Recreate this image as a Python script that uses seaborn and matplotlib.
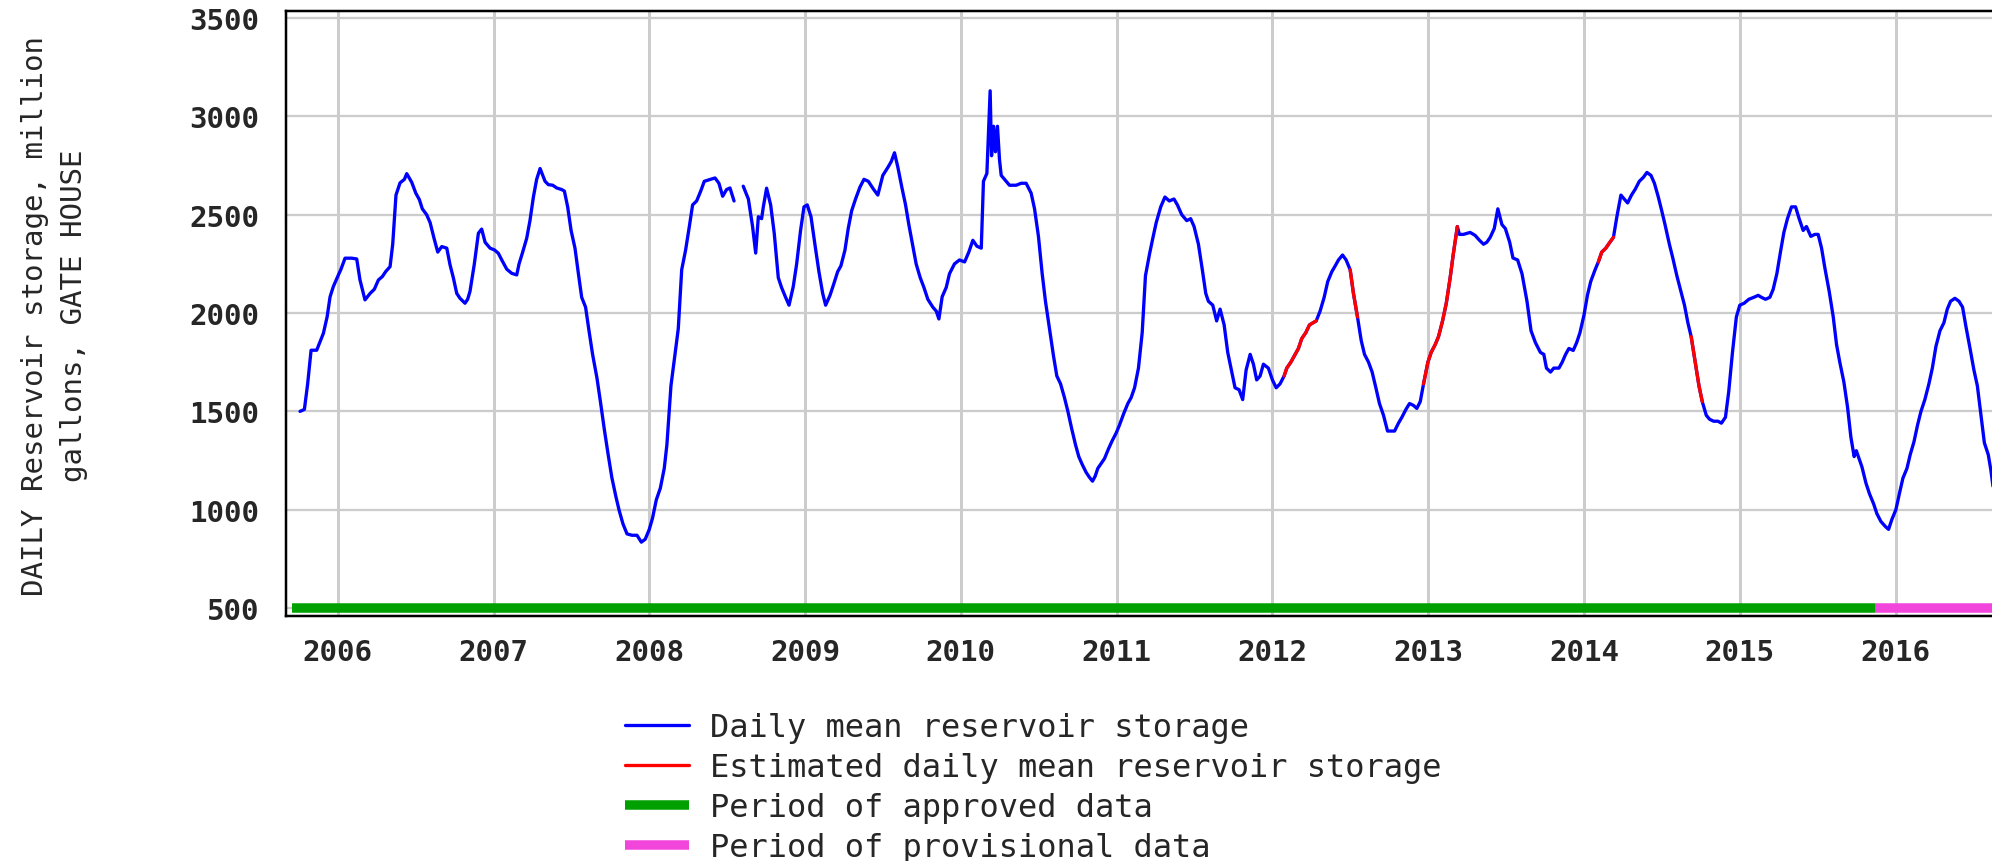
import numpy as np
import pandas as pd
import matplotlib
matplotlib.use("Agg")
import matplotlib.pyplot as plt
from matplotlib.lines import Line2D
import seaborn as sns

# daily mean reservoir storage (million gallons)
years = [
    2005.758, 2005.786, 2005.807, 2005.829, 2005.865, 2005.908, 2005.932, 2005.951, 2005.972,
    2006.000, 2006.021, 2006.047, 2006.090, 2006.122, 2006.143, 2006.175, 2006.208, 2006.235,
    2006.261, 2006.287, 2006.308, 2006.336, 2006.353, 2006.374, 2006.400, 2006.428, 2006.443,
    2006.475, 2006.501, 2006.524, 2006.543, 2006.571, 2006.593, 2006.618, 2006.642, 2006.668,
    2006.700, 2006.721, 2006.742, 2006.764, 2006.785, 2006.817, 2006.834, 2006.849, 2006.877,
    2006.903, 2006.924, 2006.946, 2006.978, 2007.006, 2007.031, 2007.053, 2007.085, 2007.117,
    2007.149, 2007.164, 2007.185, 2007.213, 2007.234, 2007.256, 2007.277, 2007.299, 2007.331,
    2007.352, 2007.380, 2007.406, 2007.438, 2007.455, 2007.476, 2007.498, 2007.523, 2007.545,
    2007.566, 2007.591, 2007.613, 2007.636, 2007.664, 2007.688, 2007.711, 2007.735, 2007.760,
    2007.786, 2007.807, 2007.831, 2007.857, 2007.889, 2007.921, 2007.949, 2007.974, 2008.000,
    2008.021, 2008.045, 2008.071, 2008.096, 2008.113, 2008.139, 2008.165, 2008.186, 2008.208,
    2008.233, 2008.257, 2008.278, 2008.304, 2008.330, 2008.353, 2008.389, 2008.422, 2008.447,
    2008.471, 2008.496, 2008.518, 2008.544, 2008.570, 2008.603, 2008.636, 2008.663, 2008.683,
    2008.700, 2008.721, 2008.732, 2008.753, 2008.779, 2008.802, 2008.828, 2008.849, 2008.875,
    2008.897, 2008.924, 2008.946, 2008.971, 2008.993, 2009.014, 2009.038, 2009.063, 2009.089,
    2009.113, 2009.132, 2009.160, 2009.185, 2009.209, 2009.230, 2009.256, 2009.277, 2009.299,
    2009.324, 2009.352, 2009.378, 2009.406, 2009.439, 2009.467, 2009.499, 2009.531, 2009.553,
    2009.574, 2009.596, 2009.621, 2009.645, 2009.666, 2009.692, 2009.713, 2009.739, 2009.763,
    2009.788, 2009.820, 2009.842, 2009.859, 2009.880, 2009.906, 2009.927, 2009.959, 2009.991,
    2010.024, 2010.051, 2010.077, 2010.103, 2010.131, 2010.145, 2010.167, 2010.188, 2010.197,
    2010.210, 2010.222, 2010.235, 2010.248, 2010.259, 2010.280, 2010.312, 2010.355, 2010.387,
    2010.419, 2010.451, 2010.473, 2010.498, 2010.522, 2010.543, 2010.569, 2010.595, 2010.616,
    2010.640, 2010.665, 2010.687, 2010.712, 2010.736, 2010.757, 2010.779, 2010.804, 2010.825,
    2010.845, 2010.862, 2010.879, 2010.922, 2010.948, 2010.971, 2010.997, 2011.018, 2011.046,
    2011.072, 2011.093, 2011.115, 2011.140, 2011.164, 2011.185, 2011.211, 2011.232, 2011.254,
    2011.283, 2011.310, 2011.338, 2011.368, 2011.390, 2011.418, 2011.450, 2011.475, 2011.497,
    2011.525, 2011.550, 2011.572, 2011.589, 2011.617, 2011.642, 2011.664, 2011.690, 2011.713,
    2011.739, 2011.760, 2011.786, 2011.809, 2011.831, 2011.857, 2011.878, 2011.899, 2011.921,
    2011.942, 2011.974, 2012.000, 2012.024, 2012.049, 2012.075, 2012.092, 2012.118, 2012.139,
    2012.167, 2012.188, 2012.214, 2012.238, 2012.281, 2012.306, 2012.332, 2012.355, 2012.381,
    2012.403, 2012.424, 2012.450, 2012.473, 2012.499, 2012.520, 2012.546, 2012.570, 2012.591,
    2012.617, 2012.640, 2012.664, 2012.687, 2012.713, 2012.739, 2012.767, 2012.784, 2012.809,
    2012.831, 2012.857, 2012.880, 2012.906, 2012.927, 2012.949, 2012.970, 2012.998, 2013.019,
    2013.045, 2013.066, 2013.092, 2013.116, 2013.141, 2013.161, 2013.187, 2013.200, 2013.226,
    2013.269, 2013.301, 2013.329, 2013.355, 2013.376, 2013.398, 2013.424, 2013.447, 2013.473,
    2013.495, 2013.523, 2013.544, 2013.574, 2013.602, 2013.634, 2013.660, 2013.688, 2013.720,
    2013.742, 2013.759, 2013.785, 2013.806, 2013.839, 2013.860, 2013.882, 2013.903, 2013.931,
    2013.953, 2013.974, 2014.000, 2014.022, 2014.043, 2014.071, 2014.092, 2014.114, 2014.140,
    2014.166, 2014.189, 2014.211, 2014.237, 2014.258, 2014.280, 2014.305, 2014.329, 2014.355,
    2014.381, 2014.404, 2014.430, 2014.452, 2014.477, 2014.499, 2014.520, 2014.548, 2014.570,
    2014.596, 2014.619, 2014.645, 2014.667, 2014.688, 2014.714, 2014.738, 2014.759, 2014.785,
    2014.806, 2014.832, 2014.860, 2014.882, 2014.908, 2014.929, 2014.953, 2014.978, 2015.000,
    2015.028, 2015.058, 2015.090, 2015.118, 2015.139, 2015.165, 2015.193, 2015.214, 2015.238,
    2015.261, 2015.283, 2015.306, 2015.332, 2015.358, 2015.381, 2015.407, 2015.428, 2015.456,
    2015.482, 2015.503, 2015.525, 2015.546, 2015.574, 2015.600, 2015.621, 2015.642, 2015.668,
    2015.692, 2015.713, 2015.734, 2015.748, 2015.770, 2015.784, 2015.810, 2015.833, 2015.859,
    2015.880, 2015.906, 2015.934, 2015.955, 2015.976, 2016.002, 2016.024, 2016.047, 2016.073,
    2016.094, 2016.118, 2016.141, 2016.163, 2016.188, 2016.214, 2016.236, 2016.259, 2016.285,
    2016.310, 2016.332, 2016.353, 2016.381, 2016.407, 2016.430, 2016.452, 2016.478, 2016.503,
    2016.525, 2016.548, 2016.570, 2016.595, 2016.612, 2016.625,
]
storage = [
    1500, 1510, 1640, 1811, 1811, 1897, 1981, 2083, 2135,
    2186, 2223, 2279, 2279, 2275, 2168, 2067, 2100, 2121,
    2168, 2186, 2211, 2236, 2350, 2600, 2662, 2680, 2709,
    2665, 2610, 2577, 2530, 2500, 2460, 2381, 2310, 2338,
    2330, 2245, 2180, 2100, 2075, 2050, 2070, 2110, 2250,
    2406, 2427, 2360, 2330, 2321, 2304, 2270, 2223, 2202,
    2194, 2250, 2304, 2380, 2470, 2590, 2680, 2735, 2670,
    2653, 2650, 2636, 2628, 2620, 2540, 2420, 2330, 2200,
    2080, 2030, 1910, 1790, 1670, 1540, 1410, 1285, 1162,
    1065, 995, 928, 877, 870, 870, 835, 850, 900,
    958, 1050, 1110, 1210, 1330, 1630, 1790, 1920, 2220,
    2320, 2440, 2550, 2570, 2620, 2670, 2679, 2687, 2660,
    2594, 2628, 2636, 2570, np.nan, 2645, 2580, 2440, 2305,
    2490, 2480, 2540, 2635, 2550, 2406, 2180, 2130, 2080,
    2040, 2134, 2250, 2420, 2540, 2550, 2490, 2350, 2210,
    2100, 2040, 2090, 2150, 2210, 2240, 2320, 2430, 2520,
    2580, 2640, 2680, 2670, 2630, 2600, 2700, 2740, 2770,
    2815, 2740, 2640, 2550, 2450, 2340, 2250, 2180, 2130,
    2070, 2030, 2010, 1970, 2083, 2130, 2200, 2250, 2270,
    2260, 2310, 2370, 2340, 2330, 2670, 2710, 3130, 2800,
    2950, 2820, 2950, 2780, 2700, 2680, 2650, 2650, 2660,
    2660, 2610, 2530, 2390, 2200, 2060, 1920, 1780, 1680,
    1640, 1570, 1500, 1410, 1330, 1270, 1230, 1190, 1165,
    1145, 1170, 1210, 1260, 1310, 1350, 1390, 1430, 1490,
    1540, 1570, 1620, 1720, 1900, 2190, 2300, 2380, 2460,
    2540, 2590, 2570, 2580, 2550, 2500, 2470, 2480, 2440,
    2350, 2220, 2100, 2060, 2040, 1960, 2020, 1940, 1800,
    1700, 1620, 1610, 1560, 1710, 1790, 1740, 1660, 1680,
    1740, 1720, 1660, 1620, 1640, 1680, 1720, 1750, 1780,
    1820, 1870, 1900, 1940, 1960, 2010, 2080, 2160, 2210,
    2240, 2270, 2295, 2270, 2220, 2100, 1980, 1860, 1790,
    1750, 1700, 1620, 1540, 1480, 1400, 1400, 1400, 1440,
    1470, 1510, 1540, 1530, 1515, 1550, 1640, 1750, 1800,
    1840, 1880, 1960, 2050, 2180, 2300, 2440, 2400, 2400,
    2410, 2395, 2370, 2350, 2360, 2385, 2430, 2530, 2450,
    2430, 2360, 2280, 2270, 2200, 2060, 1910, 1850, 1800,
    1790, 1720, 1700, 1720, 1720, 1750, 1790, 1820, 1810,
    1850, 1900, 1990, 2090, 2160, 2220, 2260, 2310, 2330,
    2360, 2385, 2490, 2600, 2580, 2560, 2600, 2630, 2670,
    2690, 2715, 2700, 2660, 2590, 2520, 2450, 2350, 2280,
    2190, 2120, 2040, 1950, 1880, 1750, 1630, 1550, 1480,
    1460, 1450, 1450, 1440, 1470, 1600, 1800, 1980, 2040,
    2050, 2070, 2080, 2090, 2080, 2070, 2080, 2120, 2200,
    2310, 2410, 2480, 2540, 2540, 2480, 2420, 2440, 2390,
    2400, 2400, 2330, 2230, 2110, 1980, 1840, 1750, 1650,
    1520, 1370, 1270, 1300, 1250, 1218, 1135, 1080, 1030,
    980, 940, 915, 900, 950, 1000, 1080, 1160, 1210,
    1280, 1345, 1430, 1500, 1560, 1640, 1720, 1830, 1910,
    1950, 2020, 2060, 2075, 2060, 2030, 1930, 1820, 1710,
    1630, 1480, 1340, 1280, 1200, 1120,
]

# periods of estimated daily values
est_start = [2012.075, 2012.499, 2012.970, 2014.092, 2014.688]
est_end = [2012.281, 2012.546, 2013.187, 2014.189, 2014.759]

# approval status periods
period_start = [2005.706, 2015.869]
period_end = [2015.869, 2016.800]
period_colors = ["#00a000", "#f245dc"]

x_ticks = [2006, 2007, 2008, 2009, 2010, 2011, 2012, 2013, 2014, 2015, 2016]
x_labels = [str(y) for y in x_ticks]
y_ticks = [500, 1000, 1500, 2000, 2500, 3000, 3500]

legend_labels = [
    "Daily mean reservoir storage",
    "Estimated daily mean reservoir storage",
    "Period of approved data",
    "Period of provisional data",
]

sns.set_style("white")
plt.rcParams["font.family"] = ["DejaVu Sans Mono", "DejaVu Sans"]

px = 0.72  # points per pixel at dpi 100

df = pd.DataFrame({"year": years, "storage": storage})
df["seg"] = df["storage"].isna().cumsum()
df = df.dropna()

est = pd.concat([
    df[(df["year"] >= s) & (df["year"] <= e)].assign(seg=i)
    for i, (s, e) in enumerate(zip(est_start, est_end))
])

fig = plt.figure(figsize=(19.92, 8.62), dpi=100)
ax = fig.add_axes([286 / 1992, 1 - 616.5 / 862, 1 - 286 / 1992, (616.5 - 12) / 862])

sns.lineplot(data=df, x="year", y="storage", units="seg", estimator=None, sort=False,
             color="#0000ff", lw=3.3 * px, ax=ax, legend=False)
sns.lineplot(data=est, x="year", y="storage", units="seg", estimator=None, sort=False,
             color="#ff0000", lw=3.3 * px, ax=ax, legend=False)

for s, e, c in zip(period_start, period_end, period_colors):
    ax.hlines(500, s, e, color=c, lw=9.5 * px, capstyle="butt", zorder=4)

ax.set_xlim(2005.668, 2016.619)
ax.set_ylim(462, 3536)
ax.set_xticks(x_ticks)
ax.set_xticklabels(x_labels)
ax.set_yticks(y_ticks)

ax.xaxis.grid(True, color="#cccccc", lw=3 * px)
ax.yaxis.grid(True, color="#cccccc", lw=2.3 * px)
ax.set_axisbelow(True)

for side in ["left", "top", "bottom"]:
    ax.spines[side].set_color("black")
    ax.spines[side].set_linewidth(2.5 * px)
ax.spines["right"].set_visible(False)

ax.tick_params(axis="both", length=0, labelsize=21)
ax.tick_params(axis="y", pad=19)
ax.tick_params(axis="x", pad=16)
for lab in ax.get_xticklabels() + ax.get_yticklabels():
    lab.set_fontweight("bold")
ax.set_xlabel("")
ax.set_ylabel("")

fig.text(55 / 1992, 1 - 316 / 862, "DAILY Reservoir storage, million\ngallons, GATE HOUSE",
         rotation=90, ha="center", va="center", multialignment="center",
         fontsize=21, linespacing=1.5)

handles = [
    Line2D([], [], color="#0000ff", lw=3.3 * px),
    Line2D([], [], color="#ff0000", lw=3.3 * px),
    Line2D([], [], color=period_colors[0], lw=9.5 * px, solid_capstyle="butt"),
    Line2D([], [], color=period_colors[1], lw=9.5 * px, solid_capstyle="butt"),
]
fig.legend(handles, legend_labels, loc="upper left", bbox_to_anchor=(625 / 1992, 1 - 713 / 862),
           frameon=False, fontsize=23, handlelength=2.0, handletextpad=0.66,
           labelspacing=0.28, borderpad=0, borderaxespad=0)

fig.savefig("out.png", dpi=100)
